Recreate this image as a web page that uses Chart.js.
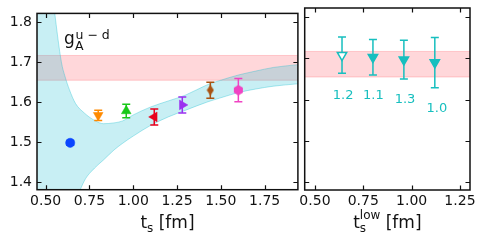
<!DOCTYPE html>
<html><head><meta charset="utf-8">
<script src="https://cdn.jsdelivr.net/npm/chart.js@4.4.1/dist/chart.umd.min.js"></script>
<style>
html,body{margin:0;padding:0;background:#fff;width:486px;height:246px;overflow:hidden;}
#wl{position:absolute;left:0;top:0;width:304px;height:246px;}
#wr{position:absolute;left:290px;top:0;width:196px;height:246px;}
canvas{display:block;}
</style></head><body>
<div id="wl"><canvas id="cl" width="304" height="246"></canvas></div>
<div id="wr"><canvas id="cr" width="196" height="246"></canvas></div>
<script>
// ---- data ----
const tsLeft  = [0.64, 0.80, 0.96, 1.12, 1.28, 1.44, 1.60];
const gaLeft  = [1.498, 1.567, 1.578, 1.563, 1.593, 1.630, 1.630];
const errLeft = [0.006, 0.013, 0.017, 0.020, 0.020, 0.020, 0.029];

const tsLow   = [0.64, 0.80, 0.96, 1.12];
const gaLow   = [1.708, 1.703, 1.697, 1.690];
const errLow  = [0.044, 0.043, 0.047, 0.061];
const lowLabels = ['1.2', '1.1', '1.3', '1.0'];
const lowLabelTs = [0.646, 0.802, 0.966, 1.131];
const lowLabelY  = [1.610, 1.609, 1.600, 1.579];

const bandTs    = [0.45,0.50,0.55,0.59,0.61,0.635,0.67,0.72,0.78,0.83,0.89,0.94,1.00,1.10,1.20,1.30,1.42,1.50,1.60,1.70,1.80,1.94];
const bandUpper = [2.25,2.03,1.83,1.70,1.665,1.632,1.597,1.573,1.554,1.546,1.548,1.553,1.568,1.588,1.603,1.618,1.643,1.655,1.668,1.678,1.687,1.694];
const bandLower = [0.85,1.00,1.12,1.20,1.235,1.28,1.345,1.402,1.435,1.455,1.480,1.497,1.515,1.542,1.563,1.580,1.600,1.611,1.624,1.633,1.640,1.646];

const refLow = 1.655, refHigh = 1.717;

const xTicksLeft  = [0.50, 0.75, 1.00, 1.25, 1.50, 1.75];
const xTicksRight = [0.50, 0.75, 1.00, 1.25];
const yTicks      = [1.4, 1.5, 1.6, 1.7, 1.8];

// ---- styles ----
const FONT = "'DejaVu Sans', sans-serif";
const leftColors = ['#0a46ff','#ff8a00','#19c819','#e8001c','#9b30f0','#a95312','#f043c3'];
const CYAN = '#17bfbf';

function markerCanvas(kind, color){
  const c = document.createElement('canvas');
  if (kind === 'thindiamond'){ c.width = 8; c.height = 12; }
  else { c.width = 11; c.height = 11; }
  const g = c.getContext('2d');
  g.fillStyle = color;
  g.beginPath();
  if (kind === 'thindiamond'){
    g.moveTo(4,0.5); g.lineTo(7.5,6); g.lineTo(4,11.5); g.lineTo(0.5,6);
  } else {
    const cx=5.5, cy=5.5, r=5.2;
    for (let k=0;k<6;k++){ const a=Math.PI/2 + k*Math.PI/3; const px=cx+r*Math.cos(a), py=cy+r*Math.sin(a); k?g.lineTo(px,py):g.moveTo(px,py); }
  }
  g.closePath(); g.fill();
  return c;
}
const leftStyles = ['circle','triangle','triangle','triangle','triangle', markerCanvas('thindiamond', leftColors[5]), markerCanvas('hex', leftColors[6])];
const leftRot    = [0, 180, 0, 270, 90, 0, 0];
const leftRadius = [4.6, 5.6, 5.6, 5.6, 5.6, 5, 5];

// ---- plugins ----
const errorBarPlugin = {
  id: 'errbars',
  beforeDatasetDraw(chart, args){
    const ds = chart.data.datasets[args.index];
    if (!ds.errorBars) return;
    const xs = chart.scales.x, ys = chart.scales.y, ctx = chart.ctx;
    ctx.save();
    ctx.lineWidth = 1.5;
    ds.data.forEach((p, i) => {
      const e = ds.errorBars[i];
      const x = xs.getPixelForValue(p.x);
      const y1 = ys.getPixelForValue(p.y + e), y2 = ys.getPixelForValue(p.y - e);
      ctx.strokeStyle = Array.isArray(ds.errColor) ? ds.errColor[i] : ds.errColor;
      ctx.beginPath();
      ctx.moveTo(x, y1); ctx.lineTo(x, y2);
      ctx.moveTo(x-4, y1); ctx.lineTo(x+4, y1);
      ctx.moveTo(x-4, y2); ctx.lineTo(x+4, y2);
      ctx.stroke();
    });
    ctx.restore();
  }
};

const framePlugin = {
  id: 'frame',
  afterDraw(chart){
    const {ctx, chartArea:a, scales} = chart;
    ctx.save();
    ctx.strokeStyle = '#111';
    ctx.lineWidth = 1.2;
    const tl = 4.5;
    ctx.beginPath();
    scales.x.ticks.forEach(t => {
      const px = Math.round(scales.x.getPixelForValue(t.value)) + 0.5;
      ctx.moveTo(px, a.bottom); ctx.lineTo(px, a.bottom - tl);
      ctx.moveTo(px, a.top); ctx.lineTo(px, a.top + tl);
    });
    scales.y.ticks.forEach(t => {
      const py = Math.round(scales.y.getPixelForValue(t.value)) + 0.5;
      ctx.moveTo(a.left, py); ctx.lineTo(a.left + tl, py);
      ctx.moveTo(a.right, py); ctx.lineTo(a.right - tl, py);
    });
    ctx.stroke();
    ctx.lineWidth = 1.5;
    ctx.strokeRect(a.left, a.top, a.right - a.left, a.bottom - a.top);
    ctx.restore();
  }
};

// draw mixed-size text runs: parts = [{t, size, dy, stack:[...]}]
function drawRuns(ctx, parts, cx, baseline, color){
  ctx.save();
  ctx.fillStyle = color;
  ctx.textBaseline = 'alphabetic';
  ctx.textAlign = 'left';
  const widthOf = p => {
    if (p.stack) return Math.max(...p.stack.map(s => { ctx.font = s.size + 'px ' + FONT; return ctx.measureText(s.t).width; }));
    ctx.font = p.size + 'px ' + FONT; return ctx.measureText(p.t).width;
  };
  const total = parts.reduce((s,p) => s + widthOf(p), 0);
  let x = cx === null ? 0 : cx - total/2;
  parts.forEach(p => {
    const w = widthOf(p);
    const items = p.stack ? p.stack : [p];
    items.forEach(s => { ctx.font = s.size + 'px ' + FONT; ctx.fillText(s.t, x + (p.x0||0), baseline + (s.dy||0)); });
    x += w;
  });
  ctx.restore();
}

const titlePlugin = {
  id: 'titles',
  afterDraw(chart, args, opts){
    if (!opts.parts) return;
    const a = chart.chartArea;
    drawRuns(chart.ctx, opts.parts, (a.left + a.right)/2, opts.baseline, '#111');
    if (opts.gLabel){
      const ctx = chart.ctx;
      ctx.save();
      ctx.fillStyle = '#111';
      ctx.textBaseline = 'alphabetic';
      ctx.font = '17px ' + FONT;
      ctx.fillText('g', a.left + 27, a.top + 30.5);
      ctx.font = '12.5px ' + FONT;
      ctx.fillText('u − d', a.left + 38.5, a.top + 25.5);
      ctx.fillText('A', a.left + 38, a.top + 37);
      ctx.restore();
    }
  }
};

const labelPlugin = {
  id: 'ptlabels',
  afterDatasetsDraw(chart, args, opts){
    if (!opts.labels) return;
    const ctx = chart.ctx, xs = chart.scales.x, ys = chart.scales.y;
    ctx.save();
    ctx.fillStyle = CYAN;
    ctx.font = '13px ' + FONT;
    ctx.textAlign = 'center';
    ctx.textBaseline = 'middle';
    opts.labels.forEach((t,i) => ctx.fillText(t, xs.getPixelForValue(opts.xs[i]), ys.getPixelForValue(opts.ys[i])));
    ctx.restore();
  }
};

Chart.register(errorBarPlugin, framePlugin, titlePlugin, labelPlugin);

function axis(min, max, ticks, dec, fitW, fitH, showLabels){
  return {
    type: 'linear', min, max,
    grid: {display:false, drawTicks:false},
    border: {display:false},
    ticks: {display: showLabels, padding: dec === 1 ? 5 : 3, color:'#111', font:{family:FONT, size:14},
            callback: v => v.toFixed(dec), autoSkip:false, maxRotation:0},
    afterBuildTicks: s => { s.ticks = ticks.map(v => ({value:v})); },
    afterFit: s => { if (fitW !== null) s.width = fitW; if (fitH !== null) s.height = fitH; }
  };
}

const Y_MIN = 1.3805, Y_MAX = 1.8225;

// ---- left chart ----
new Chart(document.getElementById('cl'), {
  type: 'scatter',
  data: {
    datasets: [
      { type:'scatter', order:0,
        data: tsLeft.map((x,i)=>({x, y:gaLeft[i]})),
        errorBars: errLeft, errColor: leftColors,
        pointStyle: leftStyles, rotation: leftRot, radius: leftRadius,
        pointBackgroundColor: leftColors, pointBorderColor: leftColors, pointBorderWidth: 0.5 },
      { type:'line', order:1, data: bandTs.map((x,i)=>({x, y:bandLower[i]})),
        borderColor:'rgba(23,190,207,0.35)', borderWidth:1, pointRadius:0, fill:false, cubicInterpolationMode:'monotone' },
      { type:'line', order:1, data: bandTs.map((x,i)=>({x, y:bandUpper[i]})),
        borderColor:'rgba(23,190,207,0.35)', borderWidth:1, pointRadius:0, fill:'-1',
        backgroundColor:'rgba(23,190,207,0.24)', cubicInterpolationMode:'monotone' },
      { type:'line', order:2, data: [{x:0.45,y:refLow},{x:1.94,y:refLow}],
        borderColor:'rgba(255,120,130,0.35)', borderWidth:1, pointRadius:0, fill:false },
      { type:'line', order:2, data: [{x:0.45,y:refHigh},{x:1.94,y:refHigh}],
        borderColor:'rgba(255,120,130,0.35)', borderWidth:1, pointRadius:0, fill:'-1',
        backgroundColor:'rgba(255,40,60,0.19)' }
    ]
  },
  options: {
    responsive:false, animation:false, devicePixelRatio:1,
    layout: {padding:{left:0, right:1.5, top:8, bottom:0}},
    scales: {
      x: axis(0.4505, 1.94, xTicksLeft, 2, null, 56.3, true),
      y: axis(Y_MIN, Y_MAX, yTicks, 1, 37, null, true)
    },
    plugins: {
      legend:{display:false}, tooltip:{enabled:false},
      titles: { baseline: 227.5, gLabel: true,
        parts: [{t:'t', size:17}, {t:'s', size:12, dy:4}, {t:' [fm]', size:17}] }
    }
  }
});

// ---- right chart ----
new Chart(document.getElementById('cr'), {
  type: 'scatter',
  data: {
    datasets: [
      { type:'scatter', order:0,
        data: tsLow.map((x,i)=>({x, y:gaLow[i]})),
        errorBars: errLow, errColor: CYAN,
        pointStyle:'triangle', rotation:180, radius:5.4,
        pointBackgroundColor: tsLow.map((_,i)=> i===0 ? '#ffffff' : CYAN),
        pointBorderColor: CYAN, pointBorderWidth: 1.5 },
      { type:'line', order:2, data: [{x:0.40,y:refLow},{x:1.35,y:refLow}],
        borderColor:'rgba(255,120,130,0.35)', borderWidth:1, pointRadius:0, fill:false },
      { type:'line', order:2, data: [{x:0.40,y:refHigh},{x:1.35,y:refHigh}],
        borderColor:'rgba(255,120,130,0.35)', borderWidth:1, pointRadius:0, fill:'-1',
        backgroundColor:'rgba(255,40,60,0.19)' }
    ]
  },
  options: {
    responsive:false, animation:false, devicePixelRatio:1,
    layout: {padding:{left:14.7, right:16, top:8, bottom:0}},
    scales: {
      x: axis(0.447, 1.302, xTicksRight, 2, null, 56, true),
      y: axis(Y_MIN, Y_MAX, yTicks, 1, 0, null, false)
    },
    plugins: {
      legend:{display:false}, tooltip:{enabled:false},
      titles: { baseline: 227.5,
        parts: [{t:'t', size:17}, {stack:[{t:'low', size:12, dy:-8.5},{t:'s', size:12, dy:4}]}, {t:' [fm]', size:17}] },
      ptlabels: { labels: lowLabels, xs: lowLabelTs, ys: lowLabelY }
    }
  }
});
</script>
</body></html>
